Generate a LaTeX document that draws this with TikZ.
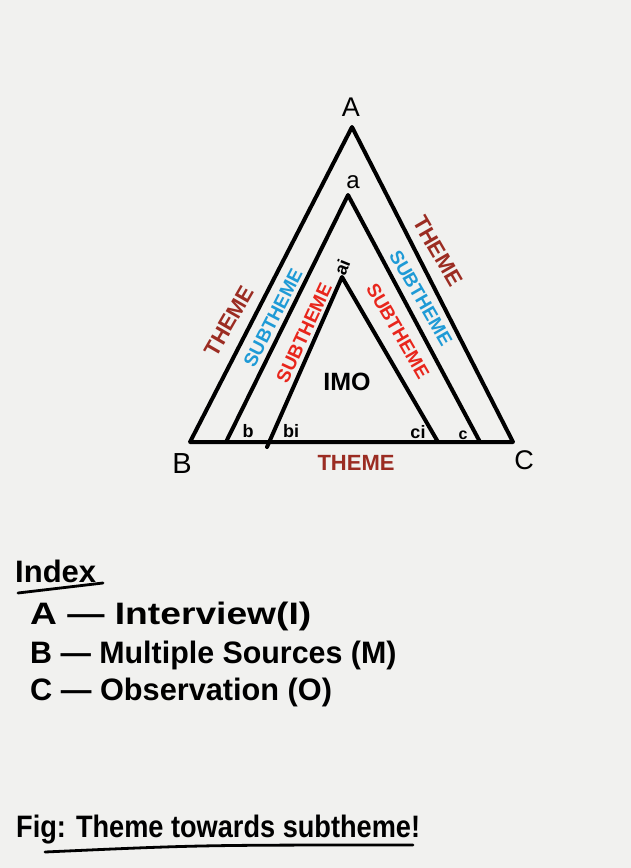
\documentclass[tikz,border=0pt]{standalone}
\usepackage{graphicx}
\usepackage{fontspec}
\setmainfont{Liberation Sans}
\definecolor{themered}{HTML}{9B2C22}
\definecolor{subblue}{HTML}{1E9AD6}
\definecolor{subred}{HTML}{E8261C}
\definecolor{paper}{HTML}{F1F1EF}
\begin{document}
\begin{tikzpicture}[x=1pt,y=-1pt,
  edge/.style={line width=4pt,line cap=round,line join=round},
  themelbl/.style={text=themered,font=\fontsize{22}{22}\selectfont\bfseries,inner sep=0pt},
  sublbl/.style={font=\fontsize{19}{19}\selectfont\bfseries,inner sep=0pt},
  vlbl/.style={font=\fontsize{27}{27}\selectfont,inner sep=0pt},
  small/.style={font=\fontsize{18}{18}\selectfont\bfseries,inner sep=0pt},
  idx/.style={font=\fontsize{31}{31}\selectfont\bfseries,anchor=base west,inner sep=0pt}]
\fill[paper] (0,0) rectangle (631,868);
\useasboundingbox (0,0) rectangle (631,868);
% outer triangle
\coordinate (A) at (352,127);
\coordinate (Bc) at (190,442);
\coordinate (Cc) at (513,442);
% middle
\coordinate (a) at (348,195);
\coordinate (bm) at (226,442);
\coordinate (cm) at (480,442);
% inner
\coordinate (ai) at (342,277);
\coordinate (bi) at (267,447);
\coordinate (ci) at (438,442);
\draw[edge] (Bc) -- (A) -- (Cc) -- cycle;
\draw[edge] (bm) -- (a) -- (cm);
\draw[edge] (bi) -- (ai) -- (ci);
% vertex labels
\node[vlbl] (lA) at (351,107) {A};
\node[vlbl,font=\fontsize{24}{24}\selectfont] (la) at (353,182) {a};
\node[small,rotate=68] (lai) at (342,267) {ai};
\node[small] (lb) at (248,431) {b};
\node[small] (lbi) at (291,431) {bi};
\node[small] (lci) at (418,432) {ci};
\node[small,font=\fontsize{16}{16}\selectfont\bfseries] (lc) at (463,435) {c};
\node[vlbl,font=\fontsize{29}{29}\selectfont] (lB) at (182,464) {B};
\node[vlbl] (lC) at (524,460) {C};
\node[font=\fontsize{25}{25}\selectfont\bfseries,inner sep=0pt] (imo) at (347,382) {IMO};
% theme labels
\node[themelbl,rotate=60] (t1) at (229,321) {THEME};
\node[themelbl,rotate=-60] (t2) at (438,251) {THEME};
\node[themelbl] (t3) at (356,463) {THEME};
\node[sublbl,text=subblue,rotate=62.8] (s1) at (273,318) {SUBTHEME};
\node[sublbl,text=subred,rotate=65] (s2) at (304,333) {SUBTHEME};
\node[sublbl,text=subblue,rotate=-60] (s3) at (421,298) {SUBTHEME};
\node[sublbl,text=subred,rotate=-60] (s4) at (398,331) {SUBTHEME};
% index
\node[idx] (ix) at (15,582) {Index};
\draw[line width=2.8pt,line cap=round] (18,593) -- (103,583);
\node[idx] (i1) at (30,624) {\scalebox{1.2}[1]{A --- Interview(I)}};
\node[idx] (i2) at (30,663) {\scalebox{0.98}[1]{B --- Multiple Sources (M)}};
\node[idx] (i3) at (30,700) {\scalebox{0.99}[1]{C --- Observation (O)}};
% caption
\node[idx] (cap) at (16,837) {\scalebox{0.876}[1]{Fig: Theme towards subtheme!}};
\draw[line width=2.8pt,line cap=round] (45,852) .. controls (200,845) .. (413,845);
\end{tikzpicture}
\end{document}
